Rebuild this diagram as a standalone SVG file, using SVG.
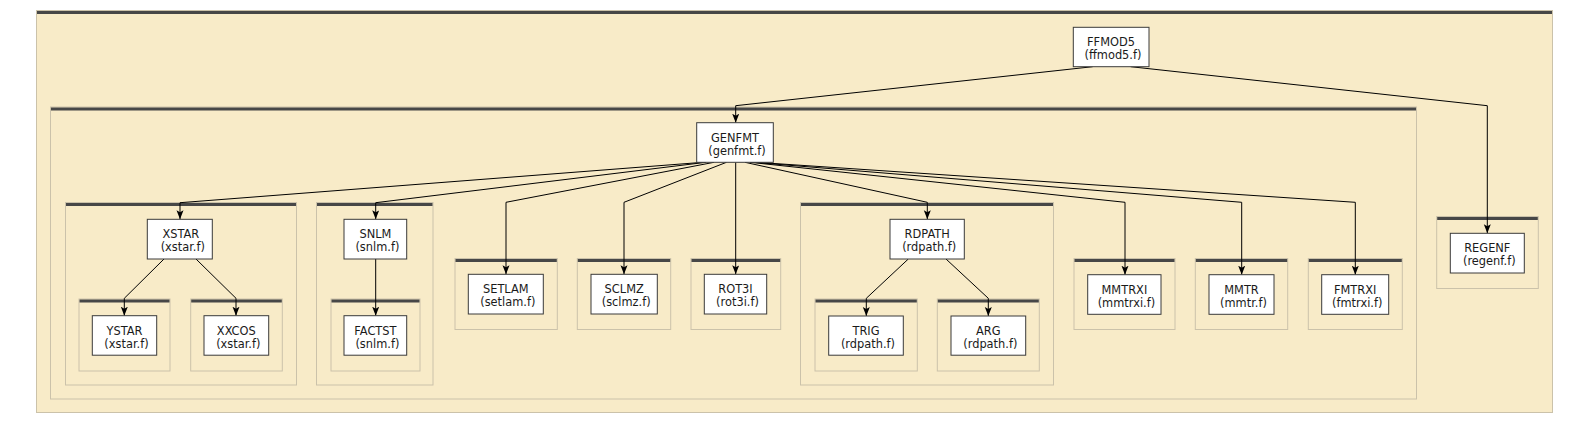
<svg xmlns="http://www.w3.org/2000/svg" width="1589" height="424" viewBox="0 0 1589 424">
<style>
.cl{fill:#f8ebc8;stroke:#cbc2aa;stroke-width:1}
.bar{fill:#474747}
.bx{fill:#ffffff;stroke:#3a3a3a;stroke-width:1}
.t{font-family:"DejaVu Sans",sans-serif;font-size:11.4px;fill:#1a1a1a;text-anchor:middle}
.e{fill:none;stroke:#000;stroke-width:1;marker-end:url(#ah)}
</style>
<defs>
<marker id="ah" markerUnits="userSpaceOnUse" markerWidth="10" markerHeight="8" refX="9" refY="3.5" orient="auto">
<path d="M0,0 L9,3.5 L0,7 L2,3.5 Z" fill="#000"/>
</marker>
</defs>
<rect x="0" y="0" width="1589" height="424" fill="#ffffff"/>

<g id="clusters">
<g id="cl-ffmod5"><rect class="cl" x="36.5" y="10.5" width="1516" height="402"/><rect class="bar" x="37" y="11" width="1515" height="3"/></g>
<g id="cl-genfmt"><rect class="cl" x="50.5" y="107" width="1366" height="292"/><rect class="bar" x="51" y="107.5" width="1365" height="3"/></g>
<g id="cl-xstar"><rect class="cl" x="65.5" y="202.5" width="231" height="182.5"/><rect class="bar" x="66" y="203" width="230" height="3"/></g>
<g id="cl-snlm"><rect class="cl" x="316.5" y="202.5" width="116.5" height="182.5"/><rect class="bar" x="317" y="203" width="115.5" height="3"/></g>
<g id="cl-rdpath"><rect class="cl" x="800.5" y="202.5" width="253" height="182.5"/><rect class="bar" x="801" y="203" width="252" height="3"/></g>
<g id="cl-ystar"><rect class="cl" x="79" y="299" width="91" height="72"/><rect class="bar" x="79.5" y="299.5" width="90" height="3"/></g>
<g id="cl-xxcos"><rect class="cl" x="190.7" y="299" width="91.6" height="72"/><rect class="bar" x="191.2" y="299.5" width="90.6" height="3"/></g>
<g id="cl-factst"><rect class="cl" x="331" y="299" width="89" height="72"/><rect class="bar" x="331.5" y="299.5" width="88" height="3"/></g>
<g id="cl-trig"><rect class="cl" x="815" y="299" width="102.3" height="72"/><rect class="bar" x="815.5" y="299.5" width="101.3" height="3"/></g>
<g id="cl-arg"><rect class="cl" x="937.3" y="299" width="102" height="72"/><rect class="bar" x="937.8" y="299.5" width="101" height="3"/></g>
<g id="cl-setlam"><rect class="cl" x="455" y="258.5" width="102.3" height="71"/><rect class="bar" x="455.5" y="259" width="101.3" height="3"/></g>
<g id="cl-sclmz"><rect class="cl" x="577.3" y="258.5" width="93.4" height="71"/><rect class="bar" x="577.8" y="259" width="92.4" height="3"/></g>
<g id="cl-rot3i"><rect class="cl" x="691" y="258.5" width="89.7" height="71"/><rect class="bar" x="691.5" y="259" width="88.7" height="3"/></g>
<g id="cl-mmtrxi"><rect class="cl" x="1074" y="258.5" width="101" height="71"/><rect class="bar" x="1074.5" y="259" width="100" height="3"/></g>
<g id="cl-mmtr"><rect class="cl" x="1195.3" y="258.5" width="92.4" height="71"/><rect class="bar" x="1195.8" y="259" width="91.4" height="3"/></g>
<g id="cl-fmtrxi"><rect class="cl" x="1308.3" y="258.5" width="94" height="71"/><rect class="bar" x="1308.8" y="259" width="93" height="3"/></g>
<g id="cl-regenf"><rect class="cl" x="1436.7" y="216.5" width="101.6" height="72"/><rect class="bar" x="1437.2" y="217" width="100.6" height="3"/></g>
</g>

<g id="connectors">
<path class="e" d="M1092.7,66.7 L735.7,105.7 L735.7,122.7"/>
<path class="e" d="M1130.7,66.7 L1487.3,105.7 L1487.3,233.3"/>
<path class="e" d="M703,162.3 L180,202.7 L180,219.3"/>
<path class="e" d="M706,162.3 L375.7,202.7 L375.7,219.3"/>
<path class="e" d="M714,162.3 L506,202.3 L506,274.3"/>
<path class="e" d="M726.5,162.3 L624,202.3 L624,274.3"/>
<path class="e" d="M735.7,162.3 L735.7,274.3"/>
<path class="e" d="M745,162.3 L927.3,202.3 L927.3,219.3"/>
<path class="e" d="M750,162.3 L1125,202.3 L1125,274.7"/>
<path class="e" d="M753,162.3 L1241.7,202.3 L1241.7,274.7"/>
<path class="e" d="M756,162.3 L1355.3,202.3 L1355.3,274.7"/>
<path class="e" d="M164,259 L124.3,298.3 L124.3,315.7"/>
<path class="e" d="M196,259 L236,298.3 L236,315.7"/>
<path class="e" d="M375.7,259 L375.7,315.7"/>
<path class="e" d="M908.3,259 L866.3,298.3 L866.3,316"/>
<path class="e" d="M946,259 L988.3,298.3 L988.3,316"/>
</g>

<g id="n-ffmod5"><rect class="bx" x="1073.3" y="27.3" width="75.7" height="39.4"/><text class="t" x="1111" y="46.3">FFMOD5</text><text class="t" x="1113" y="59.3">(ffmod5.f)</text></g>
<g id="n-genfmt"><rect class="bx" x="696.7" y="122.7" width="76.6" height="39.6"/><text class="t" x="735" y="141.7">GENFMT</text><text class="t" x="737" y="154.7">(genfmt.f)</text></g>
<g id="n-xstar"><rect class="bx" x="147.3" y="219.3" width="65" height="39.7"/><text class="t" x="180.8" y="238.3">XSTAR</text><text class="t" x="182.8" y="251.3">(xstar.f)</text></g>
<g id="n-snlm"><rect class="bx" x="344" y="219.3" width="62.7" height="39.7"/><text class="t" x="375.4" y="238.3">SNLM</text><text class="t" x="377.4" y="251.3">(snlm.f)</text></g>
<g id="n-rdpath"><rect class="bx" x="890" y="219.3" width="74.3" height="39.7"/><text class="t" x="927.2" y="238.3">RDPATH</text><text class="t" x="929.2" y="251.3">(rdpath.f)</text></g>
<g id="n-regenf"><rect class="bx" x="1450.3" y="233.3" width="74" height="39.7"/><text class="t" x="1487.3" y="252.3">REGENF</text><text class="t" x="1489.3" y="265.3">(regenf.f)</text></g>
<g id="n-setlam"><rect class="bx" x="468.3" y="274.3" width="75" height="39.7"/><text class="t" x="505.8" y="293.3">SETLAM</text><text class="t" x="507.8" y="306.3">(setlam.f)</text></g>
<g id="n-sclmz"><rect class="bx" x="591" y="274.3" width="66.3" height="39.7"/><text class="t" x="624.2" y="293.3">SCLMZ</text><text class="t" x="626.2" y="306.3">(sclmz.f)</text></g>
<g id="n-rot3i"><rect class="bx" x="704.3" y="274.3" width="62.4" height="39.7"/><text class="t" x="735.5" y="293.3">ROT3I</text><text class="t" x="737.5" y="306.3">(rot3i.f)</text></g>
<g id="n-mmtrxi"><rect class="bx" x="1087.7" y="274.7" width="73.3" height="39.6"/><text class="t" x="1124.4" y="293.7">MMTRXI</text><text class="t" x="1126.4" y="306.7">(mmtrxi.f)</text></g>
<g id="n-mmtr"><rect class="bx" x="1209" y="274.7" width="65" height="39.6"/><text class="t" x="1241.5" y="293.7">MMTR</text><text class="t" x="1243.5" y="306.7">(mmtr.f)</text></g>
<g id="n-fmtrxi"><rect class="bx" x="1321.7" y="274.7" width="67" height="39.6"/><text class="t" x="1355.2" y="293.7">FMTRXI</text><text class="t" x="1357.2" y="306.7">(fmtrxi.f)</text></g>
<g id="n-ystar"><rect class="bx" x="92.3" y="315.7" width="64.4" height="39.5"/><text class="t" x="124.5" y="334.7">YSTAR</text><text class="t" x="126.5" y="347.7">(xstar.f)</text></g>
<g id="n-xxcos"><rect class="bx" x="204" y="315.7" width="64.7" height="39.5"/><text class="t" x="236.3" y="334.7">XXCOS</text><text class="t" x="238.3" y="347.7">(xstar.f)</text></g>
<g id="n-factst"><rect class="bx" x="344" y="315.7" width="62.7" height="39.5"/><text class="t" x="375.4" y="334.7">FACTST</text><text class="t" x="377.4" y="347.7">(snlm.f)</text></g>
<g id="n-trig"><rect class="bx" x="828.7" y="316" width="74.6" height="39.2"/><text class="t" x="866" y="335">TRIG</text><text class="t" x="868" y="348">(rdpath.f)</text></g>
<g id="n-arg"><rect class="bx" x="951" y="316" width="74.7" height="39.2"/><text class="t" x="988.3" y="335">ARG</text><text class="t" x="990.3" y="348">(rdpath.f)</text></g>
</svg>
